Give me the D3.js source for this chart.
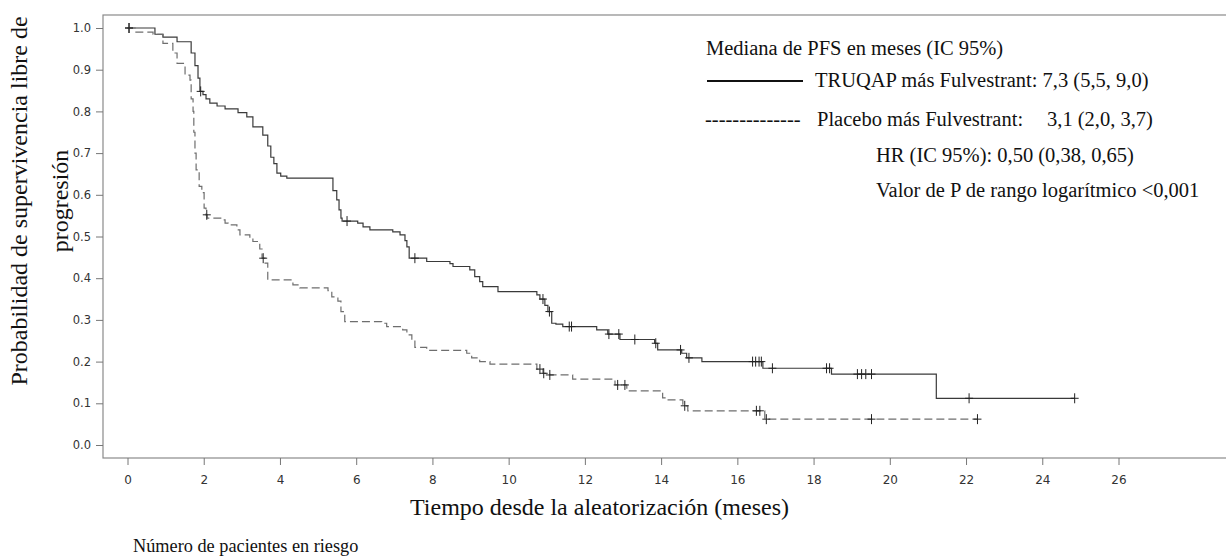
<!DOCTYPE html>
<html>
<head>
<meta charset="utf-8">
<script src="https://cdn.jsdelivr.net/npm/d3@7"></script>
<style>
  body { margin: 0; background: #fff; }
  svg { display: block; }
</style>
</head>
<body>
<div id="chart"></div>
<script>
// TRUQAP + Fulvestrant: time (months) where the curve steps down, and new survival
const truqapTimes = [0, 0.72, 0.93, 1.30, 1.67, 1.77, 1.85, 1.90, 1.98, 2.06, 2.16, 2.35, 2.56, 2.90, 3.13, 3.29, 3.55, 3.68, 3.76, 3.84, 3.92, 4.02, 4.18,
  5.39, 5.49, 5.55, 5.60, 5.63, 6.04, 6.18, 6.36, 6.96, 7.15, 7.28, 7.33, 7.39, 7.85, 8.46, 8.54, 8.98, 9.11, 9.24, 9.32, 9.72,
  10.74, 10.82, 10.95, 11.03, 11.13, 11.24, 11.42, 12.31, 12.60, 12.92, 13.83, 13.91, 14.54, 14.67, 15.07, 16.67, 18.47, 21.22];
const truqapSurv = [1.0, 0.985, 0.978, 0.967, 0.94, 0.91, 0.88, 0.848, 0.84, 0.83, 0.82, 0.813, 0.806, 0.797, 0.787, 0.763, 0.743, 0.717, 0.69, 0.675, 0.652, 0.645, 0.64,
  0.61, 0.588, 0.564, 0.544, 0.537, 0.532, 0.523, 0.516, 0.511, 0.504, 0.49, 0.475, 0.448, 0.44, 0.435, 0.428, 0.42, 0.404, 0.392, 0.38, 0.368,
  0.36, 0.35, 0.335, 0.32, 0.292, 0.29, 0.284, 0.276, 0.266, 0.253, 0.244, 0.228, 0.22, 0.209, 0.2, 0.184, 0.17, 0.112];
const truqapCensor = [0.04, 1.92, 5.76, 7.54, 10.9, 11.07, 11.59, 11.65, 12.63, 12.89, 13.31, 13.86, 14.51, 14.73,
  16.40, 16.48, 16.57, 16.63, 16.92, 18.34, 18.42, 19.15, 19.26, 19.37, 19.52, 22.08, 24.85];
const truqapEnd = 24.85;

// Placebo + Fulvestrant
const placeboTimes = [0, 0.2, 0.67, 0.93, 1.19, 1.30, 1.51, 1.64, 1.67, 1.72, 1.74, 1.77, 1.80, 1.88, 1.95, 2.01, 2.06, 2.09, 2.48, 2.56, 2.64, 2.87, 2.95,
  3.21, 3.29, 3.47, 3.53, 3.61, 3.68, 4.34, 4.52, 5.26, 5.36, 5.52, 5.60, 5.70, 6.67, 6.80, 7.22, 7.33, 7.46, 7.54, 7.85, 8.90, 9.03, 9.24, 9.51,
  10.74, 10.90, 11.08, 11.68, 12.79, 13.10, 14.04, 14.15, 14.57, 14.70, 16.72];
const placeboSurv = [1.0, 0.99, 0.985, 0.963, 0.94, 0.915, 0.887, 0.875, 0.83, 0.80, 0.75, 0.70, 0.66, 0.62, 0.605, 0.568, 0.552, 0.544, 0.54, 0.532, 0.528, 0.516, 0.504,
  0.496, 0.488, 0.47, 0.448, 0.436, 0.396, 0.384, 0.377, 0.37, 0.355, 0.345, 0.32, 0.296, 0.292, 0.284, 0.276, 0.264, 0.252, 0.234, 0.227, 0.22, 0.209, 0.2, 0.194,
  0.182, 0.172, 0.168, 0.158, 0.144, 0.13, 0.113, 0.108, 0.094, 0.082, 0.062];
const placeboCensor = [0.04, 2.08, 3.56, 10.82, 10.92, 11.08, 12.86, 13.05, 14.62, 16.5, 16.59, 16.76, 19.52, 22.3];
const placeboEnd = 22.3;

const xTicks = d3.range(0, 27, 2);
const yTicks = d3.range(0, 11).map(d => d / 10);

const width = 1226;
const height = 559;
const box = { left: 103, top: 15, bottom: 458 };

const svg = d3.select('#chart')
  .append('svg')
  .attr('width', width)
  .attr('height', height);

const x = d3.scaleLinear()
  .domain([0, 26])
  .range([127.5, 1118.5]);

const y = d3.scaleLinear()
  .domain([0, 1])
  .range([445, 28]);

// plot frame (right edge runs off the picture)
svg.append('rect')
  .attr('x', box.left)
  .attr('y', box.top)
  .attr('width', width + 10 - box.left)
  .attr('height', box.bottom - box.top)
  .attr('fill', 'none')
  .attr('stroke', '#8a8a8a')
  .attr('stroke-width', 1.2);

function xAxis(g) {
  g.attr('transform', `translate(0,${box.bottom})`)
    .call(d3.axisBottom(x).tickValues(xTicks).tickFormat(d3.format('d')).tickSize(7).tickPadding(10))
    .call(g => g.select('.domain').remove())
    .attr('font-family', 'DejaVu Sans, sans-serif')
    .attr('font-size', 12);
  g.selectAll('line').attr('stroke', '#777');
  g.selectAll('text').attr('fill', '#333');
}

function yAxis(g) {
  g.attr('transform', `translate(${box.left},0)`)
    .call(d3.axisLeft(y).tickValues(yTicks).tickFormat(d3.format('.1f')).tickSize(7).tickPadding(5))
    .call(g => g.select('.domain').remove())
    .attr('font-family', 'DejaVu Sans, sans-serif')
    .attr('font-size', 11.5);
  g.selectAll('line').attr('stroke', '#777');
  g.selectAll('text').attr('fill', '#333');
}

svg.append('g').call(xAxis);
svg.append('g').call(yAxis);

function stepPoints(times, surv, end) {
  const pts = times.map((t, i) => [t, surv[i]]);
  pts.push([end, surv[surv.length - 1]]);
  return pts;
}

function survAt(times, surv, t) {
  const i = d3.bisectRight(times, t) - 1;
  return surv[Math.max(0, i)];
}

const line = d3.line()
  .x(d => x(d[0]))
  .y(d => y(d[1]))
  .curve(d3.curveStepAfter);

const series = [
  { times: truqapTimes, surv: truqapSurv, censor: truqapCensor, end: truqapEnd, color: '#3a3a3a', dash: null },
  { times: placeboTimes, surv: placeboSurv, censor: placeboCensor, end: placeboEnd, color: '#6e6e6e', dash: '8,4' }
];

series.forEach(s => {
  svg.append('path')
    .datum(stepPoints(s.times, s.surv, s.end))
    .attr('d', line)
    .attr('fill', 'none')
    .attr('stroke', s.color)
    .attr('stroke-width', 1.2)
    .attr('stroke-dasharray', s.dash);

  const marks = svg.append('g')
    .selectAll('g')
    .data(s.censor)
    .join('g')
    .attr('transform', d => `translate(${x(d)},${y(survAt(s.times, s.surv, d))})`);
  marks.append('line')
    .attr('x1', 0).attr('x2', 0).attr('y1', -5).attr('y2', 5)
    .attr('stroke', '#222').attr('stroke-width', 1);
  marks.append('line')
    .attr('x1', -4).attr('x2', 4).attr('y1', 0).attr('y2', 0)
    .attr('stroke', '#222').attr('stroke-width', 1);
});

// axis titles
svg.append('text')
  .attr('x', 599.5)
  .attr('y', 515)
  .attr('text-anchor', 'middle')
  .attr('font-family', 'Liberation Serif, Times New Roman, serif')
  .attr('font-size', 24)
  .attr('fill', '#111')
  .text('Tiempo desde la aleatorización (meses)');

const yTitle = svg.append('text')
  .attr('transform', 'translate(0,201) rotate(-90)')
  .attr('text-anchor', 'middle')
  .attr('font-family', 'Liberation Serif, Times New Roman, serif')
  .attr('font-size', 24)
  .attr('fill', '#111');
yTitle.append('tspan').attr('x', 0).attr('y', 27).text('Probabilidad de supervivencia libre de');
yTitle.append('tspan').attr('x', 0).attr('y', 68).text('progresión');

svg.append('text')
  .attr('x', 133)
  .attr('y', 552)
  .attr('font-family', 'Liberation Serif, Times New Roman, serif')
  .attr('font-size', 18.3)
  .attr('fill', '#111')
  .text('Número de pacientes en riesgo');

// legend / statistics box
const legend = svg.append('g')
  .attr('font-family', 'Liberation Serif, Times New Roman, serif')
  .attr('font-size', 20.5)
  .attr('fill', '#111');

legend.append('text').attr('x', 706).attr('y', 55).text('Mediana de PFS en meses (IC 95%)');
legend.append('line')
  .attr('x1', 707).attr('x2', 803).attr('y1', 81).attr('y2', 81)
  .attr('stroke', '#111').attr('stroke-width', 1.8);
legend.append('text').attr('x', 815).attr('y', 87).text('TRUQAP más Fulvestrant: 7,3 (5,5, 9,0)');
legend.append('text').attr('x', 705).attr('y', 126).text('--------------');
legend.append('text').attr('x', 817).attr('y', 126).text('Placebo más Fulvestrant:');
legend.append('text').attr('x', 1047).attr('y', 126).text('3,1 (2,0, 3,7)');
legend.append('text').attr('x', 876).attr('y', 162).text('HR (IC 95%): 0,50 (0,38, 0,65)');
legend.append('text').attr('x', 876).attr('y', 197).text('Valor de P de rango logarítmico <0,001');
</script>
</body>
</html>
